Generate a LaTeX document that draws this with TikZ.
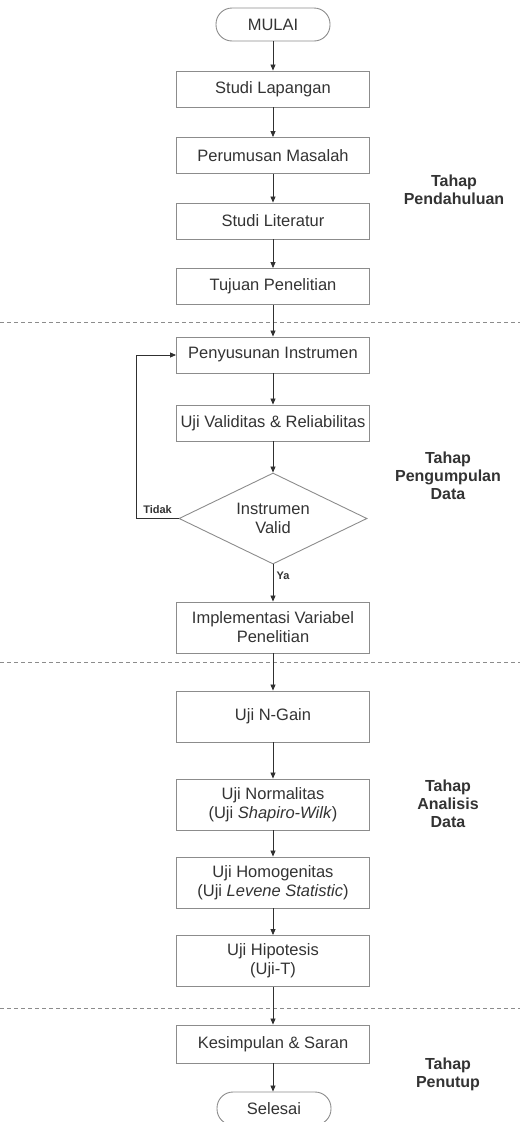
\documentclass[tikz,border=0pt]{standalone}
\usepackage{fontspec}
\setmainfont{Liberation Sans}
\usetikzlibrary{arrows.meta,positioning,shapes.geometric}
\definecolor{boxline}{HTML}{8C8C8C}
\definecolor{txt}{HTML}{333333}
\definecolor{arrowc}{HTML}{303030}
\tikzset{
  every picture/.style={line width=0.75pt},
  stepbox/.style={draw=boxline, line width=0.9pt, rectangle, minimum width=193pt, minimum height=36pt,
    text=txt, font=\fontsize{16.5}{19}\selectfont, align=center, inner sep=2pt},
  tallbox/.style={stepbox, minimum height=51pt},
  terminal/.style={draw=boxline, line width=0.9pt, rectangle, rounded corners=16pt, minimum width=114pt,
    minimum height=33pt, text=txt, font=\fontsize{16.5}{19}\selectfont},
  decision/.style={draw=boxline, line width=0.9pt, diamond, aspect=2, minimum width=188pt, minimum height=91pt,
    inner sep=0pt, text=txt, font=\fontsize{16.5}{19}\selectfont, align=center},
  flow/.style={draw=arrowc, line width=0.8pt, -{Triangle[length=6pt,width=5pt]}},
  phase/.style={text=txt, font=\bfseries\fontsize{16}{18}\selectfont, align=center},
  answer/.style={text=txt, font=\bfseries\fontsize{11}{13}\selectfont},
  divider/.style={draw=boxline, line width=0.8pt, dash pattern=on 4pt off 3pt}
}
\begin{document}
\begin{tikzpicture}[x=1pt,y=-1pt]
    \useasboundingbox (0,0) rectangle (520,1122);
    \clip (0,0) rectangle (520,1122);

    % Tahap Pendahuluan
    \node[terminal] (mulai) at (273,24.5) {MULAI};
    \node[stepbox] (lapangan) at (273,89) {Studi Lapangan};
    \node[stepbox] (masalah) at (273,155.5) {Perumusan Masalah};
    \node[stepbox] (literatur) at (273,221) {Studi Literatur};
    \node[stepbox] (tujuan) at (273,286.5) {Tujuan Penelitian};
    \node[phase] (phase1) at (454,190) {Tahap\\Pendahuluan};

    % Tahap Pengumpulan Data
    \node[stepbox] (instrumen) at (273,355) {Penyusunan Instrumen};
    \node[stepbox] (validitas) at (273,423) {Uji Validitas \& Reliabilitas};
    \node[decision] (valid) at (273,518.5) {Instrumen\\Valid};
    \node[tallbox] (implementasi) at (273,627.5) {Implementasi Variabel\\Penelitian};
    \node[phase] (phase2) at (448,476) {Tahap\\Pengumpulan\\Data};

    % Tahap Analisis Data
    \node[tallbox] (ngain) at (273,716.5) {Uji N-Gain};
    \node[tallbox] (normalitas) at (273,804.5) {Uji Normalitas\\(Uji \textit{Shapiro-Wilk})};
    \node[tallbox] (homogenitas) at (273,882.5) {Uji Homogenitas\\(Uji \textit{Levene Statistic})};
    \node[tallbox] (hipotesis) at (273,961) {Uji Hipotesis\\(Uji-T)};
    \node[phase] (phase3) at (448,804) {Tahap\\Analisis\\Data};

    % Tahap Penutup
    \node[stepbox, minimum height=38pt] (kesimpulan) at (273,1044) {Kesimpulan \& Saran};
    \node[terminal] (selesai) at (274,1108.5) {Selesai};
    \node[phase] (phase4) at (448,1074) {Tahap\\Penutup};

    % dividers
    \draw[divider] (0,322) -- (520,322);
    \draw[divider] (0,662) -- (520,662);
    \draw[divider] (0,1008) -- (520,1008);

    % connectors
    \draw[flow] (mulai) -- (lapangan);
    \draw[flow] (lapangan) -- (masalah);
    \draw[flow] (masalah) -- (literatur);
    \draw[flow] (literatur) -- (tujuan);
    \draw[flow] (tujuan) -- (instrumen);
    \draw[flow] (instrumen) -- (validitas);
    \draw[flow] (validitas) -- (valid);
    \draw[flow] (valid) -- node[answer, right, pos=0.3] {Ya} (implementasi);
    \draw[flow] (valid.west) node[answer, anchor=south east, xshift=-3pt, yshift=1pt] (tidak) {Tidak}
        -- ++(-42,0) |- (instrumen.west);
    \draw[flow] (implementasi) -- (ngain);
    \draw[flow] (ngain) -- (normalitas);
    \draw[flow] (normalitas) -- (homogenitas);
    \draw[flow] (homogenitas) -- (hipotesis);
    \draw[flow] (hipotesis) -- (kesimpulan);
    \draw[flow] (kesimpulan) -- (kesimpulan |- selesai.north);
\end{tikzpicture}
\end{document}
